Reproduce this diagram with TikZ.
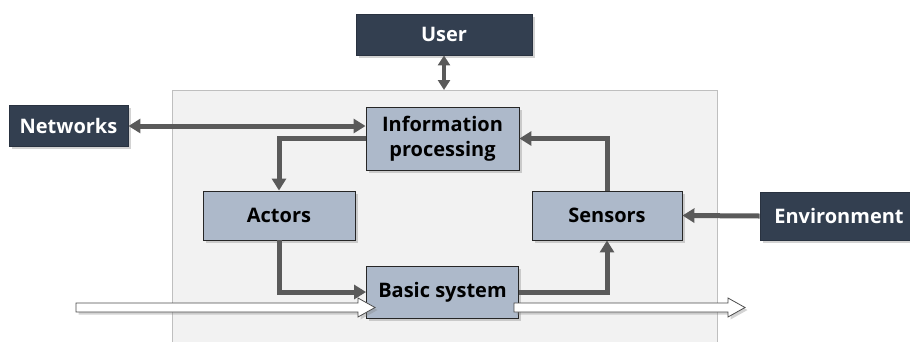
\documentclass[tikz,border=0pt]{standalone}
\usepackage{fontspec}
\setmainfont{Open Sans}
\usetikzlibrary{arrows.meta,shadows}
\definecolor{darkbox}{HTML}{333F50}
\definecolor{lightbox}{HTML}{ADB9CA}
\definecolor{connc}{HTML}{5A5A5A}
\definecolor{bgfill}{HTML}{F2F2F2}
\definecolor{bgline}{HTML}{BFBFBF}
\begin{document}
\begin{tikzpicture}[x=1pt,y=-1pt,
  boxfont/.style={font=\bfseries\fontsize{20}{25}\selectfont, align=center, inner sep=0pt},
  myshadow/.style={drop shadow={opacity=0.35, shadow xshift=2.5pt, shadow yshift=-2.5pt}},
  lightnode/.style={boxfont, draw=black!85, line width=0.9pt, fill=lightbox, text=black, myshadow},
  darknode/.style={boxfont, draw=darkbox!80!black, line width=0.9pt, fill=darkbox, text=white, myshadow},
  tipstyle/.tip={Triangle[length=12pt,width=14pt]},
  conn/.style={draw=connc, line width=5pt, -tipstyle},
  wharrow/.style={fill=white, draw=black!70, line width=0.8pt, myshadow}
]
\useasboundingbox (0,0) rectangle (910,341);
% background
\node[draw=bgline, line width=1pt, fill=bgfill, minimum width=545pt, minimum height=260pt, inner sep=0pt, anchor=north west] (bg) at (172,90) {};

% nodes
\node[darknode, minimum width=176pt, minimum height=41pt] (user) at (444,34.5) {User};
\node[darknode, minimum width=119pt, minimum height=41pt] (net) at (68.5,126) {Networks};
\node[darknode, minimum width=158pt, minimum height=48pt] (env) at (839,216) {Environment};
\node[lightnode, minimum width=153pt, minimum height=63pt] (info) at (442.5,138.5) {Information\\processing};
\node[lightnode, minimum width=152pt, minimum height=49pt] (act) at (279,215.5) {Actors};
\node[lightnode, minimum width=150pt, minimum height=49pt] (sen) at (607,215.5) {Sensors};
\node[lightnode, minimum width=152pt, minimum height=52pt] (bas) at (442.5,292) {Basic system};

% connectors
\draw[conn, tipstyle-tipstyle] (net.east) -- (info.west |- net.east);
\draw[conn, line width=4pt, {Triangle[length=10pt,width=12pt]}-{Triangle[length=10pt,width=12pt]}] (user.south) -- (user.south |- bg.north);
\draw[conn] (info.west) -| (act.north);
\draw[conn] (act.south) |- (bas.west);
\draw[conn] (bas.east) -| (sen.south);
\draw[conn] (sen.north) |- (info.east);
\draw[conn] (env.west) -- (sen.east);

% material flow arrows
\coordinate (inL) at (76,307.5);
\coordinate (inR) at (375,307.5);
\coordinate (outL) at (514,307.5);
\coordinate (outR) at (745,307.5);
\path[wharrow] ([yshift=4.5pt]inL) -- ([xshift=-17pt,yshift=4.5pt]inR) -- ([xshift=-17pt,yshift=9.5pt]inR) -- (inR) -- ([xshift=-17pt,yshift=-9.5pt]inR) -- ([xshift=-17pt,yshift=-4.5pt]inR) -- ([yshift=-4.5pt]inL) -- cycle;
\path[wharrow] ([yshift=4.5pt]outL) -- ([xshift=-17pt,yshift=4.5pt]outR) -- ([xshift=-17pt,yshift=9.5pt]outR) -- (outR) -- ([xshift=-17pt,yshift=-9.5pt]outR) -- ([xshift=-17pt,yshift=-4.5pt]outR) -- ([yshift=-4.5pt]outL) -- cycle;
\end{tikzpicture}
\end{document}
